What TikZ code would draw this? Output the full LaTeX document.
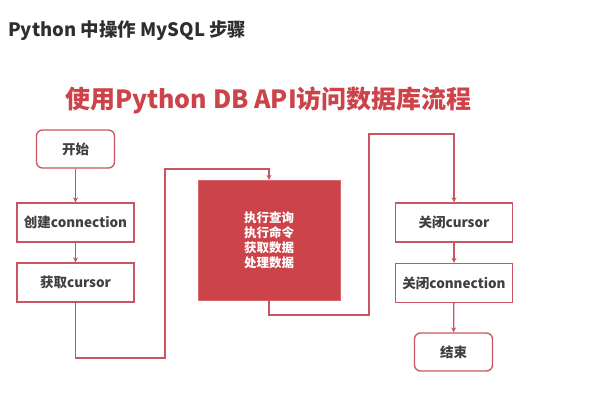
\documentclass[tikz,border=0pt]{standalone}
\usepackage{fontspec}
\setmainfont{Noto Sans CJK SC}
\usetikzlibrary{arrows.meta}

\definecolor{dbred}{HTML}{CC434A}
\definecolor{lnred}{HTML}{C75660}
\definecolor{headgray}{HTML}{2E2E2E}

\tikzset{
  stepbox/.style={draw=lnred, line width=1.3pt, fill=white, text=black!75,
    minimum width=117pt, minimum height=39pt, inner sep=0pt,
    font=\bfseries\fontsize{13.5}{15}\selectfont},
  endbox/.style={stepbox, rounded corners=6pt, minimum width=78pt, minimum height=38pt},
  workbox/.style={fill=dbred, draw=dbred!80!white, text=white, align=center,
    minimum width=142pt, minimum height=120pt, inner sep=0pt,
    font=\bfseries\fontsize{12.5}{15}\selectfont},
  flow/.style={draw=lnred, line width=1.3pt, -{Stealth[length=5pt,width=5pt]}}
}

\begin{document}
\begin{tikzpicture}[x=1pt, y=-1pt]
  \useasboundingbox (0,0) rectangle (600,400);

  \node[anchor=west, inner sep=0pt, text=headgray, font=\bfseries\fontsize{18.5}{21}\selectfont] (head) at (8,31) {Python 中操作 MySQL 步骤};
  \node[text=dbred, font=\bfseries\fontsize{25}{29}\selectfont] (title) at (268.5,100) {使用Python DB API访问数据库流程};

  \node[endbox]  (start) at (75.5,149)   {开始};
  \node[stepbox] (conn)  at (75.5,222.5) {创建connection};
  \node[stepbox] (cur)   at (75.5,282.5) {获取cursor};
  \node[workbox] (work)  at (269,240)    {执行查询\\执行命令\\获取数据\\处理数据};
  \node[stepbox] (ccur)  at (454,222.5)  {关闭cursor};
  \node[stepbox] (cconn) at (454,283)    {关闭connection};
  \node[endbox]  (stop)  at (453.5,352)  {结束};

  % corners of the two long connectors
  \coordinate (lowL) at (165,358);
  \coordinate (topL) at (165,169);
  \coordinate (lowM) at (369,315);
  \coordinate (topM) at (369,134);

  \draw[flow] (start) -- (conn);
  \draw[flow] (conn) -- (cur);
  \draw[flow] (cur.south) |- (lowL) -- (topL) -| (work.north);
  \draw[flow] (work.south) |- (lowM) -- (topM) -| (ccur.north);
  \draw[flow] (ccur) -- (cconn);
  \draw[flow] (cconn) -- (stop);
\end{tikzpicture}
\end{document}
